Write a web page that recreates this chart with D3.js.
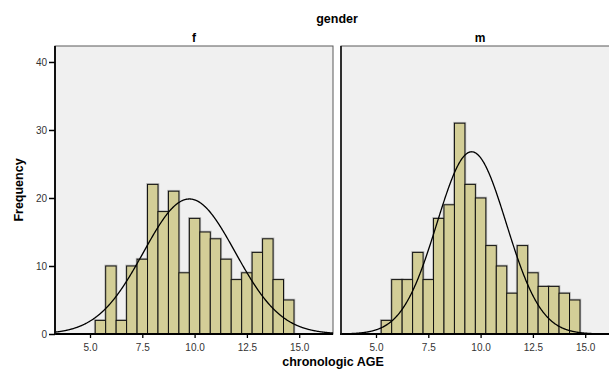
<!DOCTYPE html>
<html>
<head>
<meta charset="utf-8">
<script src="https://cdn.jsdelivr.net/npm/d3@7"></script>
<style>
  html, body { margin: 0; padding: 0; background: #ffffff; }
  svg { display: block; }
  text { font-family: Arial, "Liberation Sans", sans-serif; }
</style>
</head>
<body>
<svg id="chart" width="609" height="370"></svg>
<script>
// Histogram bins of chronologic age (lower edges, width 0.5 years)
const binLower = [5.25, 5.75, 6.25, 6.75, 7.25, 7.75, 8.25, 8.75, 9.25, 9.75,
                  10.25, 10.75, 11.25, 11.75, 12.25, 12.75, 13.25, 13.75, 14.25];
const binWidth = 0.5;

// Frequencies per bin for each gender panel
const genders = ["f", "m"];
const femaleCounts = [2, 10, 2, 10, 11, 22, 18, 21, 9, 17, 15, 14, 11, 8, 9, 12, 14, 8, 5];
const maleCounts   = [2, 8, 8, 12, 8, 17, 19, 31, 22, 20, 13, 10, 6, 13, 9, 7, 7, 6, 5];

// Fitted normal curve parameters per panel
const fitMean = [9.75, 9.57];
const fitSd   = [2.19, 1.66];

// Axis ticks
const xTicks = [5.0, 7.5, 10.0, 12.5, 15.0];
const yTicks = [0, 10, 20, 30, 40];

const countsByGender = [femaleCounts, maleCounts];

const svg = d3.select("#chart");

const panelTop = 46, panelBottom = 334;
const panelWidth = 278;
const panelLefts = [55, 341];

const xDomain = [3.327, 3.327 + panelWidth / 20.92];
const y = d3.scaleLinear().domain([0, 42.35]).range([panelBottom, panelTop]);

const barFill = "#d3ce97";
const panelBg = "#f0f0f0";

// Overall title
svg.append("text")
  .attr("x", (panelLefts[0] + panelLefts[1] + panelWidth) / 2)
  .attr("y", 23)
  .attr("text-anchor", "middle")
  .attr("font-size", 12.5)
  .attr("font-weight", "bold")
  .attr("fill", "#000")
  .text("gender");

// x axis title
svg.append("text")
  .attr("x", 333)
  .attr("y", 366)
  .attr("text-anchor", "middle")
  .attr("font-size", 12.5)
  .attr("font-weight", "bold")
  .attr("fill", "#000")
  .text("chronologic AGE");

// y axis title
svg.append("text")
  .attr("transform", `translate(23,190) rotate(-90)`)
  .attr("text-anchor", "middle")
  .attr("font-size", 12.5)
  .attr("font-weight", "bold")
  .attr("fill", "#000")
  .text("Frequency");

const defs = svg.append("defs");

genders.forEach((g, i) => {
  const left = panelLefts[i];
  const x = d3.scaleLinear().domain(xDomain).range([left, left + panelWidth]);
  const counts = countsByGender[i];
  const total = d3.sum(counts);

  const clipId = "clip-" + g;
  defs.append("clipPath").attr("id", clipId)
    .append("rect")
    .attr("x", left).attr("y", panelTop)
    .attr("width", panelWidth).attr("height", panelBottom - panelTop);

  const panel = svg.append("g");

  // panel background and frame
  panel.append("rect")
    .attr("x", left).attr("y", panelTop)
    .attr("width", panelWidth).attr("height", panelBottom - panelTop)
    .attr("fill", panelBg)
    .attr("stroke", "#5a5a5a")
    .attr("stroke-width", 1);

  // panel label
  panel.append("text")
    .attr("x", left + panelWidth / 2)
    .attr("y", 42)
    .attr("text-anchor", "middle")
    .attr("font-size", 12)
    .attr("font-weight", "bold")
    .attr("fill", "#000")
    .text(g);

  const plot = panel.append("g").attr("clip-path", `url(#${clipId})`);

  // histogram bars
  const bins = binLower.map((b, k) => ({ x0: b, x1: b + binWidth, n: counts[k] }));
  plot.selectAll("rect.shadow")
    .data(bins)
    .join("rect")
    .attr("class", "shadow")
    .attr("x", d => x(d.x0))
    .attr("y", d => y(d.n))
    .attr("width", d => x(d.x1) - x(d.x0))
    .attr("height", d => y(0) - y(d.n))
    .attr("fill", "none")
    .attr("stroke", "#8a8a8a")
    .attr("stroke-width", 2.6)
    .attr("stroke-opacity", 0.55);
  plot.selectAll("rect.bar")
    .data(bins)
    .join("rect")
    .attr("class", "bar")
    .attr("x", d => x(d.x0))
    .attr("y", d => y(d.n))
    .attr("width", d => x(d.x1) - x(d.x0))
    .attr("height", d => y(0) - y(d.n))
    .attr("fill", barFill)
    .attr("stroke", "#111")
    .attr("stroke-width", 1);

  // fitted normal curve, scaled to counts
  const mu = fitMean[i], sd = fitSd[i];
  const scale = total * binWidth / (sd * Math.sqrt(2 * Math.PI));
  const grid = d3.range(xDomain[0], xDomain[1] + 0.02, 0.02);
  const line = d3.line()
    .x(v => x(v))
    .y(v => y(scale * Math.exp(-0.5 * ((v - mu) / sd) ** 2)));
  plot.append("path")
    .datum(grid)
    .attr("d", line)
    .attr("fill", "none")
    .attr("stroke", "#000")
    .attr("stroke-width", 1.3);

  // x axis
  const xAxis = panel.append("g")
    .attr("transform", `translate(0,${panelBottom})`)
    .call(d3.axisBottom(x).tickValues(xTicks).tickFormat(d3.format(".1f")).tickSize(4).tickSizeOuter(0));
  xAxis.select(".domain").remove();
  xAxis.selectAll(".tick line").attr("stroke", "#000").attr("stroke-width", 1.3);
  xAxis.selectAll(".tick text")
    .attr("font-family", "Arial, 'Liberation Sans', sans-serif")
    .attr("font-size", 10)
    .attr("fill", "#333")
    .attr("dy", "0.95em");

  // axis lines (bottom and left of each panel)
  panel.append("line")
    .attr("x1", left - 1).attr("x2", left + panelWidth)
    .attr("y1", panelBottom).attr("y2", panelBottom)
    .attr("stroke", "#000").attr("stroke-width", 2);
  panel.append("line")
    .attr("x1", left).attr("x2", left)
    .attr("y1", panelTop).attr("y2", panelBottom + 1)
    .attr("stroke", "#111").attr("stroke-width", i === 0 ? 2 : 1.6);

  // y axis with labels on the first panel only
  if (i === 0) {
    const yAxis = panel.append("g")
      .attr("transform", `translate(${left},0)`)
      .call(d3.axisLeft(y).tickValues(yTicks).tickFormat(d3.format("d")).tickSize(6).tickSizeOuter(0));
    yAxis.select(".domain").remove();
    yAxis.selectAll(".tick line").attr("stroke", "#000").attr("stroke-width", 1.5);
    yAxis.selectAll(".tick text")
      .attr("font-family", "Arial, 'Liberation Sans', sans-serif")
      .attr("font-size", 10)
      .attr("fill", "#333")
      .attr("x", -8);
  }
});
</script>
</body>
</html>
